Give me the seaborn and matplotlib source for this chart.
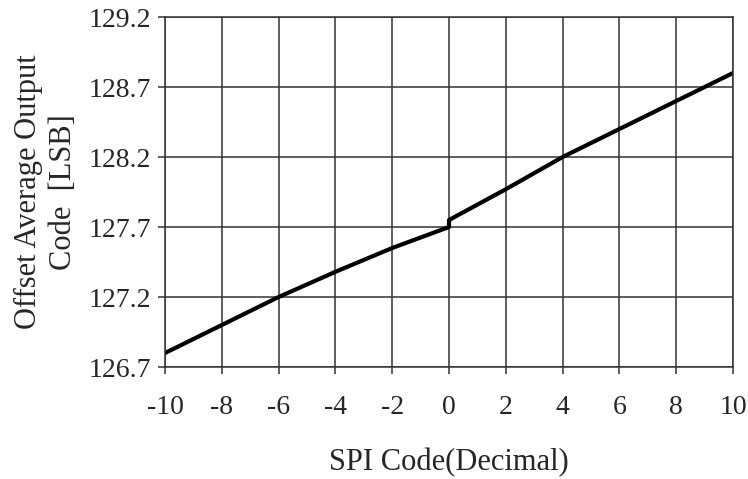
import matplotlib
matplotlib.use("Agg")
import matplotlib.pyplot as plt
import seaborn as sns
import pandas as pd

spi_code = [-10, -8, -6, -4, -2, 0, 0, 2, 4, 6, 8, 10]
offset_code = [126.80, 127.00, 127.20, 127.38, 127.55, 127.70, 127.75, 127.97, 128.20, 128.40, 128.60, 128.80]
x_ticks = [-10, -8, -6, -4, -2, 0, 2, 4, 6, 8, 10]
y_ticks = [126.7, 127.2, 127.7, 128.2, 128.7, 129.2]

sns.set_style("white")
plt.rcParams['font.family'] = ['Liberation Serif', 'DejaVu Serif']

df = pd.DataFrame({"x": spi_code, "y": offset_code, "order": range(len(spi_code))})

fig = plt.figure(figsize=(7.48, 4.79), dpi=100)
ax = fig.add_axes([0.2206, 0.2338, 0.98 - 0.2206, 0.9645 - 0.2338])
sns.lineplot(data=df, x="x", y="y", sort=False, estimator=None, color="black", linewidth=3, ax=ax)

ax.set_xlim(-10, 10)
ax.set_ylim(126.7, 129.2)
ax.set_xticks(x_ticks)
ax.set_yticks(y_ticks)
ax.set_xticklabels([str(v) for v in x_ticks])
ax.set_yticklabels([f"{v:.1f}" for v in y_ticks])
ax.grid(True, color="#333333", linewidth=1.1)
ax.set_axisbelow(True)
for s in ax.spines.values():
    s.set_color("#333333")
    s.set_linewidth(1.1)
ax.tick_params(axis="x", direction="out", length=5, width=1.1, color="#333333",
               labelsize=20, pad=15, bottom=True)
ax.tick_params(axis="y", direction="out", length=5, width=1.1, color="#333333",
               labelsize=20, pad=5, left=True)
ax.set_xlabel("SPI Code(Decimal)", fontsize=22, labelpad=20)
ax.set_ylabel("Offset Average Output\nCode  [LSB]", fontsize=22, labelpad=8, linespacing=1.25)

fig.savefig("out.png", dpi=100)
